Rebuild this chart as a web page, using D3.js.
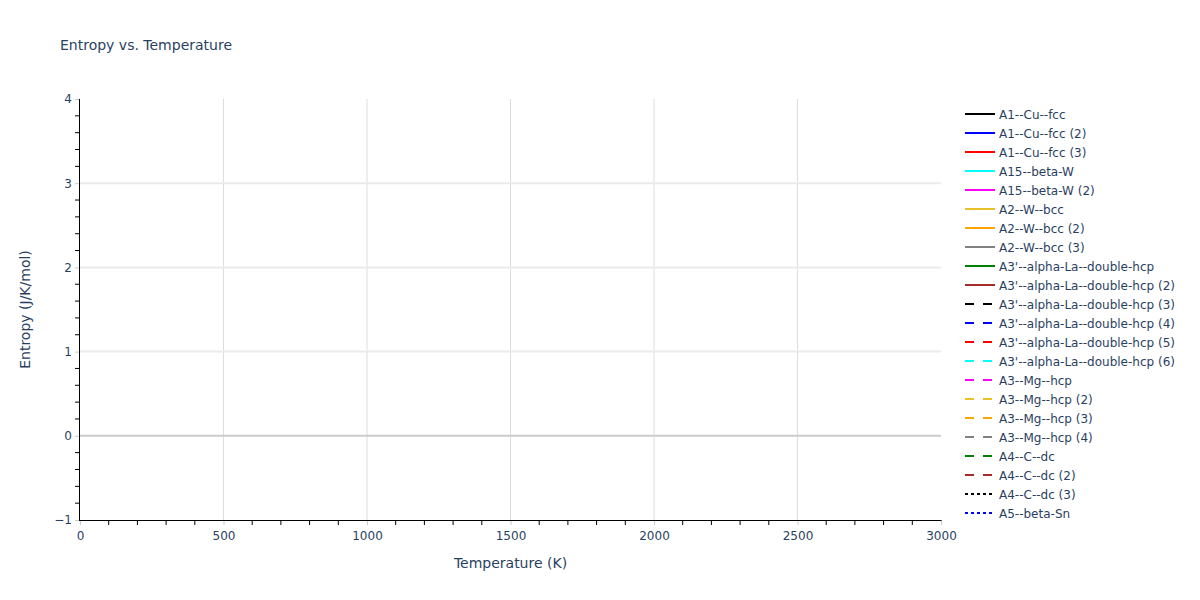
<!DOCTYPE html>
<html>
<head>
<meta charset="utf-8">
<script src="https://cdn.jsdelivr.net/npm/d3@7"></script>
<style>
  body { margin: 0; background: #fff; }
  svg { display: block; font-family: "DejaVu Sans", Verdana, sans-serif; }
</style>
</head>
<body>
<svg id="chart" width="1200" height="600"></svg>
<script>
// ---- Data ----
const seriesNames = [
  "A1--Cu--fcc", "A1--Cu--fcc (2)", "A1--Cu--fcc (3)",
  "A15--beta-W", "A15--beta-W (2)",
  "A2--W--bcc", "A2--W--bcc (2)", "A2--W--bcc (3)",
  "A3'--alpha-La--double-hcp", "A3'--alpha-La--double-hcp (2)",
  "A3'--alpha-La--double-hcp (3)", "A3'--alpha-La--double-hcp (4)",
  "A3'--alpha-La--double-hcp (5)", "A3'--alpha-La--double-hcp (6)",
  "A3--Mg--hcp", "A3--Mg--hcp (2)", "A3--Mg--hcp (3)", "A3--Mg--hcp (4)",
  "A4--C--dc", "A4--C--dc (2)", "A4--C--dc (3)", "A5--beta-Sn"
];
const seriesColors = [
  "#000000", "#0000ff", "#ff0000", "#00ffff", "#ff00ff",
  "#e8c02a", "#ffa500", "#808080", "#008000", "#a52a2a",
  "#000000", "#0000ff", "#ff0000", "#00ffff", "#ff00ff",
  "#e8c02a", "#ffa500", "#808080", "#008000", "#a52a2a",
  "#000000", "#0000ff"
];
const seriesDash = [
  "solid","solid","solid","solid","solid","solid","solid","solid","solid","solid",
  "dash","dash","dash","dash","dash","dash","dash","dash","dash","dash",
  "dot","dot"
];
// No data points are visible in the reference: every series is empty.
const temperatures = [];
const entropyValues = seriesNames.map(() => []);

const xTicks = [0, 500, 1000, 1500, 2000, 2500, 3000];
const yTicks = [-1, 0, 1, 2, 3, 4];
const xDomain = [0, 3000];
const yDomain = [-1, 4];

// ---- Layout ----
const svg = d3.select("#chart");
const m = { left: 80, right: 1200 - 941, top: 99, bottom: 600 - 520 };
const W = 1200, H = 600;
const x = d3.scaleLinear().domain(xDomain).range([m.left, W - m.right]);
const y = d3.scaleLinear().domain(yDomain).range([H - m.bottom, m.top]);
const textColor = "#2a3f5f";
const FONT = "'DejaVu Sans', Verdana, sans-serif";

const dashArray = d => d === "dash" ? "9,9" : d === "dot" ? "3,3" : null;

// grid
const g = svg.append("g");
g.selectAll(".vg").data(xTicks.filter(t => t > xDomain[0] && t < xDomain[1]))
  .enter().append("line")
  .attr("x1", d => x(d)).attr("x2", d => x(d))
  .attr("y1", y(yDomain[1])).attr("y2", y(yDomain[0]))
  .attr("stroke", "#dddddd").attr("stroke-width", 1);
g.selectAll(".hg").data(yTicks.filter(t => t > yDomain[0] && t < yDomain[1] && t !== 0))
  .enter().append("line")
  .attr("x1", x(xDomain[0])).attr("x2", x(xDomain[1]))
  .attr("y1", d => y(d)).attr("y2", d => y(d))
  .attr("stroke", "#ebebeb").attr("stroke-width", 2);
// zero line
g.append("line")
  .attr("x1", x(xDomain[0])).attr("x2", x(xDomain[1]))
  .attr("y1", y(0)).attr("y2", y(0))
  .attr("stroke", "#cccccc").attr("stroke-width", 2);

// series lines (empty)
const line = d3.line().x((d, i) => x(temperatures[i])).y(d => y(d)).defined(d => d != null);
svg.append("g").selectAll("path").data(entropyValues).enter().append("path")
  .attr("d", d => d.length ? line(d) : null)
  .attr("fill", "none")
  .attr("stroke", (d, i) => seriesColors[i])
  .attr("stroke-width", 2)
  .attr("stroke-dasharray", (d, i) => dashArray(seriesDash[i]));

// X axis
const xMinor = d3.range(xDomain[0], xDomain[1] + 1, 100).filter(v => v % 500 !== 0);
const xAxisG = svg.append("g").attr("transform", `translate(0,${y(yDomain[0])})`);
xAxisG.selectAll(".xmin").data(xMinor).enter().append("line")
  .attr("x1", d => x(d)).attr("x2", d => x(d)).attr("y1", 0).attr("y2", 5)
  .attr("stroke", "#000").attr("stroke-width", 1);
xAxisG.call(d3.axisBottom(x).tickValues(xTicks).tickSize(5).tickPadding(6).tickFormat(d3.format("d")))
  .call(a => a.select(".domain").remove())
  .call(a => a.selectAll(".tick line").attr("stroke", "#cccccc"))
  .call(a => a.selectAll(".tick text").attr("fill", textColor).style("font-size", "12px").style("font-family", FONT));
xAxisG.append("line").attr("x1", x(xDomain[0]) - 0.5).attr("x2", x(xDomain[1]) + 0.5)
  .attr("y1", 0.5).attr("y2", 0.5).attr("stroke", "#000").attr("stroke-width", 1);

// Y axis
const yMinor = d3.range(-1, 4.0001, 0.2).filter(v => Math.abs(v - Math.round(v)) > 1e-6);
const yAxisG = svg.append("g").attr("transform", `translate(${x(xDomain[0])},0)`);
yAxisG.selectAll(".ymin").data(yMinor).enter().append("line")
  .attr("x1", -5).attr("x2", 0).attr("y1", d => y(d)).attr("y2", d => y(d))
  .attr("stroke", "#000").attr("stroke-width", 1);
yAxisG.call(d3.axisLeft(y).tickValues(yTicks).tickSize(5).tickPadding(3)
    .tickFormat(d => d < 0 ? "\u2212" + Math.abs(d) : d))
  .call(a => a.select(".domain").remove())
  .call(a => a.selectAll(".tick line").attr("stroke", "#cccccc"))
  .call(a => a.selectAll(".tick text").attr("fill", textColor).style("font-size", "12px").style("font-family", FONT));
yAxisG.append("line").attr("x1", -0.5).attr("x2", -0.5)
  .attr("y1", y(yDomain[1])).attr("y2", y(yDomain[0]) + 1)
  .attr("stroke", "#000").attr("stroke-width", 1);

// Titles
svg.append("text").attr("x", 60).attr("y", 50)
  .attr("fill", textColor).style("font-size", "14px")
  .text("Entropy vs. Temperature");
svg.append("text").attr("x", (x(xDomain[0]) + x(xDomain[1])) / 2).attr("y", 568)
  .attr("text-anchor", "middle").attr("fill", textColor).style("font-size", "14px")
  .text("Temperature (K)");
svg.append("text")
  .attr("transform", `translate(30,${(y(yDomain[0]) + y(yDomain[1])) / 2}) rotate(-90)`)
  .attr("text-anchor", "middle").attr("fill", textColor).style("font-size", "14px")
  .text("Entropy (J/K/mol)");

// Legend
const leg = svg.append("g").attr("transform", "translate(965,114)");
const items = leg.selectAll("g").data(seriesNames).enter().append("g")
  .attr("transform", (d, i) => `translate(0,${i * 19})`);
items.append("line").attr("x1", 0).attr("x2", 30).attr("y1", 0).attr("y2", 0)
  .attr("stroke", (d, i) => seriesColors[i]).attr("stroke-width", 2)
  .attr("stroke-dasharray", (d, i) => dashArray(seriesDash[i]));
items.append("text").attr("x", 34).attr("y", 4.5)
  .attr("fill", textColor).style("font-size", "12px")
  .text(d => d);
</script>
</body>
</html>
